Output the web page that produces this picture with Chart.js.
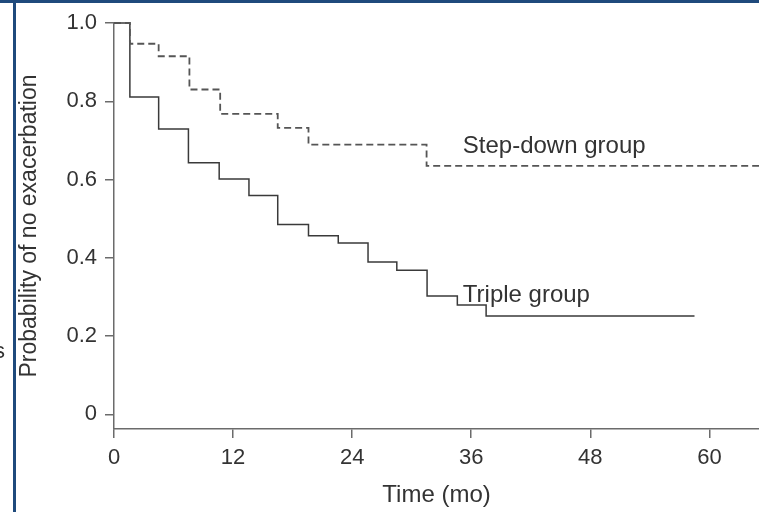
<!DOCTYPE html>
<html>
<head>
<meta charset="utf-8">
<script src="https://cdn.jsdelivr.net/npm/chart.js@4.4.0/dist/chart.umd.min.js"></script>
<style>
  html, body { margin: 0; padding: 0; background: #fff; }
  #wrap { width: 759px; height: 512px; }
</style>
</head>
<body>
<div id="wrap"><canvas id="km"></canvas></div>
<script>
// Kaplan-Meier curves (time in months, survival probability)
const tripleTimes = [0, 1.6, 4.5, 7.5, 10.6, 13.6, 16.5, 19.6, 22.6, 25.6, 28.5, 31.55, 34.6, 37.5, 58.5];
const tripleProb = [1.0, 0.811, 0.729, 0.643, 0.601, 0.559, 0.485, 0.456, 0.438, 0.389, 0.368, 0.302, 0.279, 0.251, 0.251];

const stepDownTimes = [0, 1.6, 4.5, 7.6, 10.7, 16.5, 19.6, 31.5, 65];
const stepDownProb = [1.0, 0.947, 0.915, 0.830, 0.768, 0.732, 0.689, 0.635, 0.635];

const xTicks = [0, 12, 24, 36, 48, 60];
const yTicks = [0, 0.2, 0.4, 0.6, 0.8, 1.0];

const groupLabels = ["Step-down group", "Triple group"];

const FONT = "'Liberation Sans', Arial, Helvetica, sans-serif";
const TEXT = "#333333";
const AXIS = "#6b6b6b";

function toPoints(xs, ys) {
    return xs.map((x, i) => ({ x: x, y: ys[i] }));
}

// draws the page frame and the curve labels
const decorations = {
    id: "decorations",
    afterDraw(chart) {
        const ctx = chart.ctx;
        const xs = chart.scales.x;
        const ys = chart.scales.y;
        ctx.save();
        // frame of the source page
        ctx.fillStyle = "#1f4a7c";
        ctx.fillRect(0, 0, chart.width, 3);
        ctx.fillRect(13, 0, 3, chart.height);
        ctx.fillStyle = TEXT;
        ctx.font = "22px " + FONT;
        ctx.textAlign = "right";
        ctx.textBaseline = "alphabetic";
        ctx.fillText("s", 5, 358);

        // curve labels
        ctx.font = "24px " + FONT;
        ctx.textAlign = "left";
        ctx.fillText(groupLabels[0], xs.getPixelForValue(35.15), ys.getPixelForValue(0.667));
        ctx.fillText(groupLabels[1], xs.getPixelForValue(35.15), ys.getPixelForValue(0.287));
        ctx.restore();
    }
};

new Chart(document.getElementById("km"), {
    type: "line",
    data: {
        datasets: [
            {
                label: groupLabels[0],
                data: toPoints(stepDownTimes, stepDownProb),
                stepped: true,
                borderColor: "#555555",
                borderWidth: 1.8,
                borderDash: [7, 4],
                pointRadius: 0,
                fill: false,
                clip: false,
            },
            {
                label: groupLabels[1],
                data: toPoints(tripleTimes, tripleProb),
                stepped: true,
                borderColor: "#3a3a3a",
                borderWidth: 1.5,
                pointRadius: 0,
                fill: false,
                clip: false,
            },
        ],
    },
    options: {
        responsive: true,
        maintainAspectRatio: false,
        animation: false,
        layout: { padding: { top: 23, right: 0, bottom: 0, left: 0 } },
        plugins: {
            legend: { display: false },
            tooltip: { enabled: false },
        },
        scales: {
            x: {
                type: "linear",
                min: 0,
                max: 65,
                afterBuildTicks: (scale) => {
                    scale.ticks = xTicks.map((v) => ({ value: v }));
                },
                afterFit: (scale) => {
                    scale.height = 83;
                },
                ticks: {
                    color: TEXT,
                    font: { family: FONT, size: 22 },
                    padding: 7,
                    maxRotation: 0,
                },
                grid: {
                    drawOnChartArea: false,
                    drawTicks: true,
                    tickLength: 9,
                    color: AXIS,
                    lineWidth: 1.5,
                },
                border: { display: true, color: AXIS, width: 1.5 },
                title: {
                    display: true,
                    text: "Time (mo)",
                    color: TEXT,
                    font: { family: FONT, size: 24 },
                    padding: { top: 0, bottom: 2 },
                },
            },
            y: {
                type: "linear",
                min: -0.0376,
                max: 1.0,
                afterBuildTicks: (scale) => {
                    scale.ticks = yTicks.map((v) => ({ value: v }));
                },
                afterFit: (scale) => {
                    scale.width = 114;
                },
                ticks: {
                    color: TEXT,
                    font: { family: FONT, size: 22 },
                    padding: 8,
                    callback: (v) => (v === 0 ? "0" : v.toFixed(1)),
                },
                grid: {
                    drawOnChartArea: false,
                    drawTicks: true,
                    tickLength: 9,
                    color: AXIS,
                    lineWidth: 1.5,
                },
                border: { display: true, color: AXIS, width: 1.5 },
                title: {
                    display: true,
                    text: "Probability of no exacerbation",
                    color: TEXT,
                    font: { family: FONT, size: 23 },
                    padding: { top: 16, bottom: 0 },
                },
            },
        },
    },
    plugins: [decorations],
});
</script>
</body>
</html>
